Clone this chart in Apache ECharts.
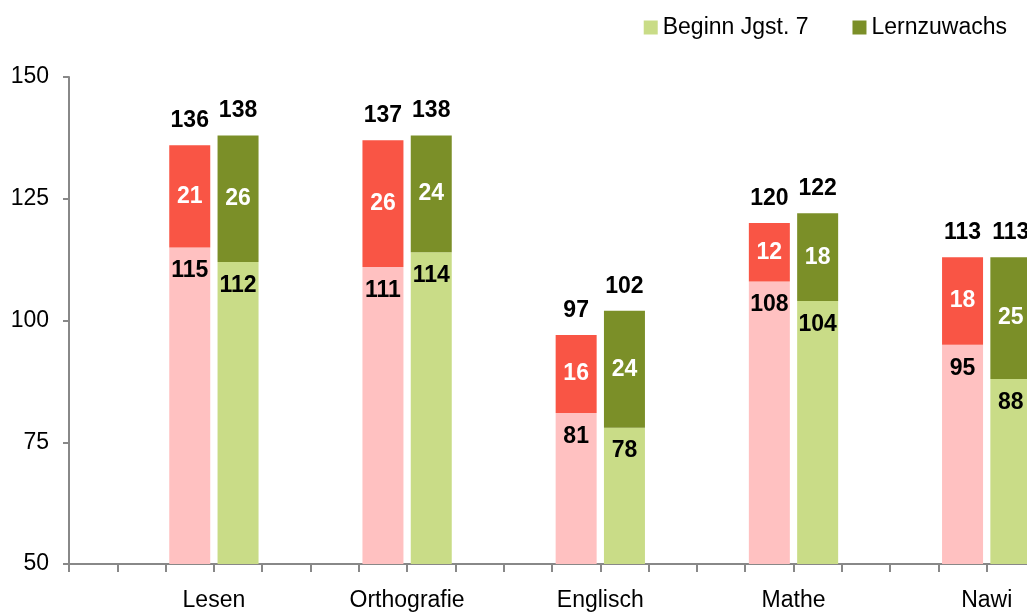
<!DOCTYPE html>
<html>
<head>
<meta charset="utf-8">
<script src="https://cdn.jsdelivr.net/npm/echarts@6/dist/echarts.min.js"></script>
<style>
  html, body { margin: 0; padding: 0; background: #fff; overflow: hidden; }
  /* Diagramm ist rechts etwas breiter als das Fenster (wie im Original abgeschnitten) */
  #chart { width: 1035px; height: 612px; }
</style>
</head>
<body>
<div id="chart"></div>
<script>
// Fächer
const subjects = ['Lesen', 'Orthografie', 'Englisch', 'Mathe', 'Nawi'];
// rote Balken (Vergleichsgruppe)
const pinkBase = [115, 111, 81, 108, 95];
const pinkGain = [21, 26, 16, 12, 18];
// grüne Balken
const greenBase = [112, 114, 78, 104, 88];
const greenGain = [26, 24, 24, 18, 25];
const yTicks = [50, 75, 100, 125, 150];

window.onload = function () {
  const myChart = echarts.init(document.getElementById('chart'));
  const slots = 20;
  const empty = () => new Array(slots).fill('-');
  const slotNames = [];
  for (let i = 0; i < slots; i++) slotNames.push('s' + i);

  const pBase = empty(), pGain = empty(), gBase = empty(), gGain = empty(), totals = empty();
  subjects.forEach((s, i) => {
    const p = 4 * i + 2, g = 4 * i + 3;
    pBase[p] = pinkBase[i];
    pGain[p] = pinkGain[i];
    gBase[g] = greenBase[i];
    gGain[g] = greenGain[i];
    totals[p] = pinkBase[i] + pinkGain[i];
    totals[g] = greenBase[i] + greenGain[i];
  });

  // Beschriftung der Fächer auf zweiter Achse (10 Plätze)
  const labelSlots = [];
  for (let i = 0; i < 10; i++) labelSlots.push(i % 2 === 1 ? subjects[(i - 1) / 2] : '');

  const font = 'Liberation Sans, Arial, sans-serif';
  const fs = 23;
  const baseLabel = {
    show: true, position: 'insideTop', distance: 12,
    color: '#000', fontSize: fs, fontWeight: 'bold', fontFamily: font
  };
  const gainLabel = {
    show: true, position: 'inside',
    color: '#fff', fontSize: fs, fontWeight: 'bold', fontFamily: font
  };

  const option = {
    animation: false,
    textStyle: { fontFamily: font },
    grid: { left: 69, right: 0, top: 77, bottom: 48, containLabel: false },
    legend: {
      data: ['Beginn Jgst. 7', 'Lernzuwachs'],
      right: 23, top: 11,
      itemWidth: 14, itemHeight: 14, itemGap: 44,
      textStyle: { fontSize: fs, color: '#000', fontFamily: font },
      icon: 'rect'
    },
    xAxis: [
      {
        type: 'category',
        data: slotNames,
        axisLine: { lineStyle: { color: '#888', width: 2 } },
        axisTick: { show: true, interval: 0, length: 8, lineStyle: { color: '#888', width: 2 } },
        axisLabel: { show: false }
      },
      {
        type: 'category',
        position: 'bottom',
        data: labelSlots,
        axisLine: { show: false },
        axisTick: { show: false },
        axisLabel: { interval: 0, margin: 25, fontSize: fs, color: '#000', fontFamily: font }
      }
    ],
    yAxis: {
      type: 'value',
      min: yTicks[0], max: yTicks[yTicks.length - 1], interval: 25,
      axisLine: { show: true, lineStyle: { color: '#888', width: 2 } },
      axisTick: { show: true, length: 6, lineStyle: { color: '#888', width: 2 } },
      splitLine: { show: false },
      axisLabel: { margin: 20, fontSize: fs, color: '#000', fontFamily: font }
    },
    series: [
      { name: 'Vergleich Beginn', type: 'bar', stack: 'a', barWidth: 41, data: pBase,
        itemStyle: { color: '#FFC1C1' }, label: baseLabel },
      { name: 'Vergleich Zuwachs', type: 'bar', stack: 'a', barWidth: 41, data: pGain,
        itemStyle: { color: '#F95545' }, label: gainLabel },
      { name: 'Beginn Jgst. 7', type: 'bar', stack: 'a', barWidth: 41, data: gBase,
        itemStyle: { color: '#C9DC87' }, label: baseLabel },
      { name: 'Lernzuwachs', type: 'bar', stack: 'a', barWidth: 41, data: gGain,
        itemStyle: { color: '#7B8F28' }, label: gainLabel },
      { name: 'Summe', type: 'scatter', symbolSize: 0, data: totals,
        itemStyle: { opacity: 1 },
        label: { show: true, position: 'top', distance: 13, color: '#000',
                 fontSize: fs, fontWeight: 'bold', fontFamily: font } }
    ]
  };
  myChart.setOption(option);
};
</script>
</body>
</html>
